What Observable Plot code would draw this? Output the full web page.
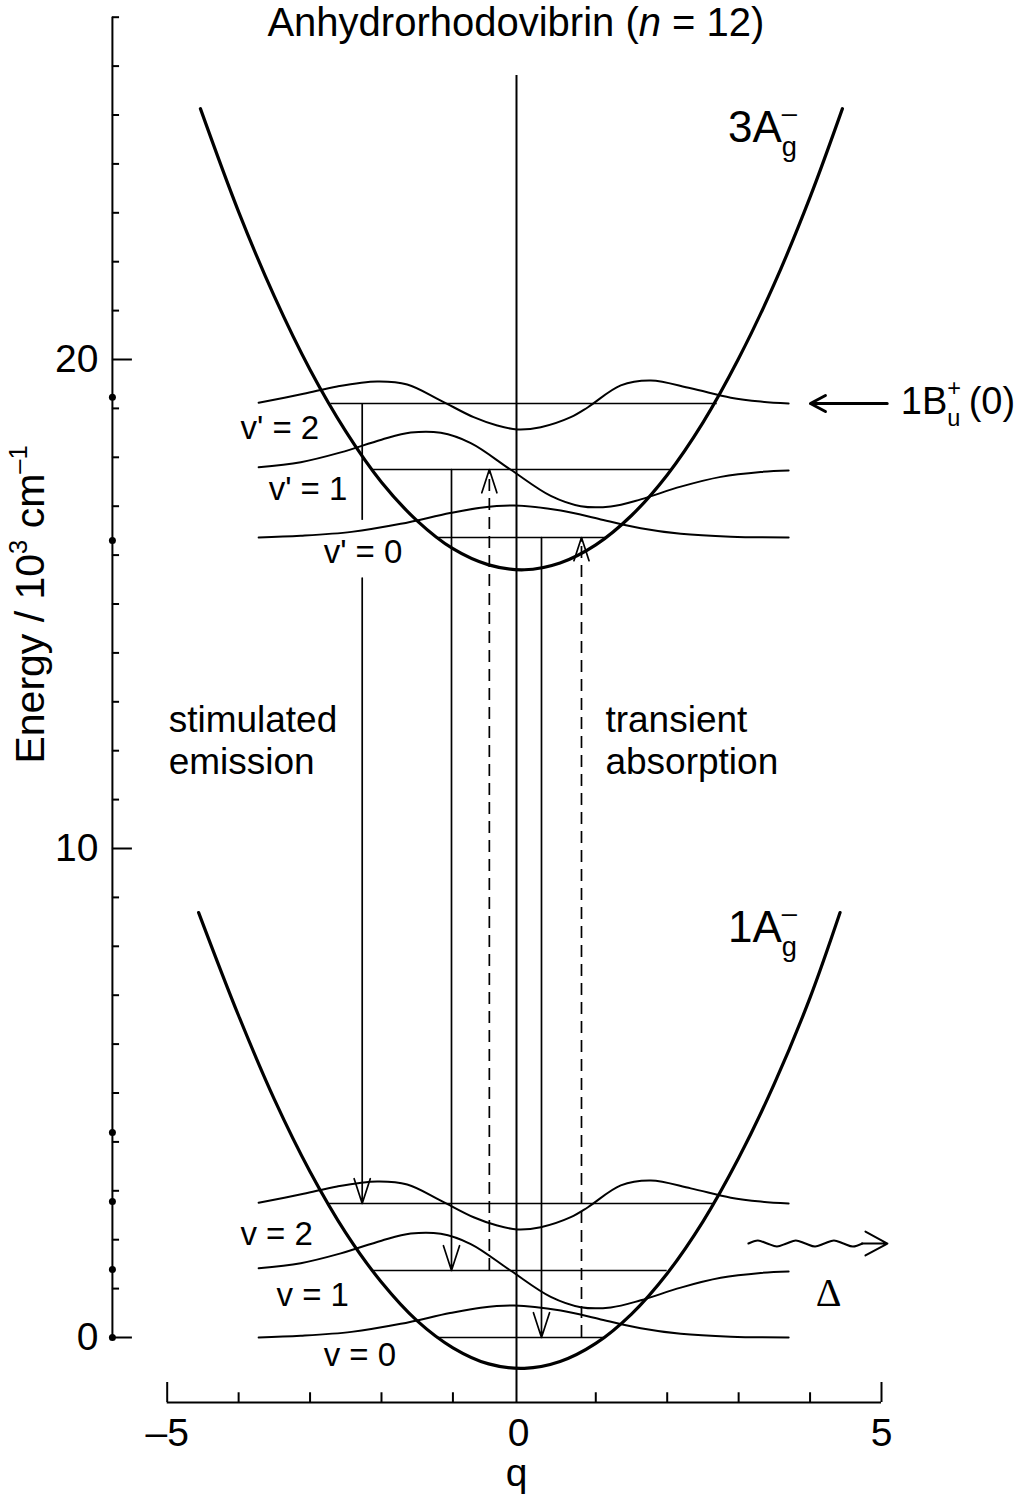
<!DOCTYPE html>
<html>
<head>
<meta charset="utf-8">
<script src="https://cdn.jsdelivr.net/npm/d3@7"></script>
<script src="https://cdn.jsdelivr.net/npm/@observablehq/plot@0.6"></script>
<style>
html, body { margin: 0; padding: 0; background: #fff; }
svg { display: block; }
</style>
</head>
<body>
<script>
// ---------------- data ----------------
// potential curves (q, energy in 10^3 cm^-1)
const upperQ = [-4.535, -4, -3.5, -3, -2.5, -2, -1.5, -1, -0.5, 0, 0.5, 1, 1.5, 2, 2.5, 3, 3.5, 4, 4.453];
const upperE = [25.13, 23.02, 21.29, 19.79, 18.53, 17.49, 16.70, 16.13, 15.80, 15.70, 15.84, 16.21, 16.81, 17.64, 18.71, 20.02, 21.55, 23.32, 25.13];
const lowerQ = [-4.56, -4, -3.5, -3, -2.5, -2, -1.5, -1, -0.5, 0, 0.5, 1, 1.5, 2, 2.5, 3, 3.5, 4, 4.42];
const lowerE = [8.69, 6.58, 4.87, 3.39, 2.14, 1.13, 0.34, -0.21, -0.54, -0.63, -0.49, -0.12, 0.48, 1.31, 2.37, 3.67, 5.19, 6.95, 8.69];

// vibrational levels
const upperLevelE = [16.36, 17.75, 19.10];
const upperLevelQ1 = [-1.22, -2.13, -2.71];
const upperLevelQ2 = [1.14, 2.05, 2.70];
const lowerLevelE = [0, 1.37, 2.74];
const lowerLevelQ1 = [-1.22, -2.11, -2.74];
const lowerLevelQ2 = [1.12, 2.00, 2.65];

// vibrational wavefunctions (offset from their level)
const psi0Q = [-3.72, -3.13, -2.42, -1.73, -1.04, -0.61, -0.14, 0.51, 1.07, 1.63, 2.19, 2.89, 3.70];
const psi0A = [0, 0.035, 0.115, 0.28, 0.50, 0.61, 0.655, 0.55, 0.37, 0.19, 0.075, 0.016, 0];
const psi1Q = [-3.72, -3.13, -2.57, -2.00, -1.59, -1.17, -0.75, -0.195, 0.37, 0.79, 1.21, 1.63, 2.19, 2.75, 3.31, 3.70];
const psi1A = [0.047, 0.15, 0.35, 0.61, 0.755, 0.75, 0.54, 0, -0.54, -0.75, -0.755, -0.61, -0.35, -0.15, -0.05, -0.02];
const psi2Q = [-3.72, -3.09, -2.62, -2.06, -1.64, -1.17, -0.71, -0.38, -0.10, 0.23, 0.65, 0.89, 1.35, 1.77, 2.33, 2.89, 3.31, 3.70];
const psi2A = [0.014, 0.20, 0.35, 0.45, 0.39, 0.06, -0.28, -0.45, -0.53, -0.485, -0.28, -0.076, 0.37, 0.47, 0.31, 0.12, 0.04, 0];

// transitions
const emitQ = [-2.27, -1.02, 0.24];
const emitFrom = [19.10, 17.75, 16.36];
const emitTo = [2.74, 1.37, 0];
const emitGapTop = 16.71;     // break in the first emission line (around "v' = 0")
const emitGapBottom = 15.53;
const absorbQ = [-0.49, 0.80];
const absorbFrom = [1.37, 0];
const absorbTo = [17.75, 16.36];

// axes
const yAxisQ = -5.767;
const xAxisE = -1.33;
const yMajorTicks = [0, 10, 20];
const yMinorTicks = [1, 2, 3, 4, 5, 6, 7, 8, 9, 11, 12, 13, 14, 15, 16, 17, 18, 19, 21, 22, 23, 24, 25, 26, 27];
const yTickLabels = ["0", "10", "20"];
const yAxisDots = [0, 1.39, 2.78, 4.19, 16.30, 19.23];
const xMajorTicks = [-5, 5];
const xMinorTicks = [-4, -3, -2, -1, 1, 2, 3, 4];
const xTickLabels = ["\u20135", "0", "5"];
const xTickLabelQ = [-5, -0.08, 5];
const centerQ = -0.11;
const centerTopE = 25.81;

// annotations
const titleText = "Anhydrorhodovibrin (*n* = 12)";
const titleQ = -0.118, titleE = 26.61;
const yLabelText = "Energy / 10^{3} cm^{\u20131}";
const yLabelQ = -6.91, yLabelE = 14.99;
const stateText = ["3A_{g}^{\u2013}", "1A_{g}^{\u2013}"];
const stateQ = [2.85, 2.85];
const stateE = [24.44, 8.08];
const buText = "1B_{u}^{+}\u2009(0)";
const buQ = 5.27, buE = 18.88;
const buArrowQ1 = 5.08, buArrowQ2 = 4.005, buArrowE = 19.10;
const vText = ["v' = 2", "v' = 1", "v' = 0", "v = 2", "v = 1", "v = 0"];
const vTextQ = [-3.975, -3.58, -2.81, -3.975, -3.47, -2.81];
const vTextE = [18.38, 17.13, 15.84, 1.90, 0.65, -0.59];
const procText = ["stimulated", "emission", "transient", "absorption"];
const procQ = [-4.98, -4.98, 1.135, 1.135];
const procE = [12.39, 11.53, 12.39, 11.53];
const deltaQ = 4.26, deltaE = 0.65;
const heatQ = [3.137, 3.27, 3.40, 3.536, 3.67, 3.80, 3.935, 4.07, 4.20, 4.334, 4.467, 4.60, 4.733];
const heatE = [1.922, 1.984, 1.922, 1.861, 1.922, 1.984, 1.922, 1.861, 1.922, 1.984, 1.922, 1.861, 1.922];
const heatArrowQ1 = 3.9, heatArrowQ2 = 5.083;

// ---------------- tables ----------------
const zip = (Q, E) => Q.map((q, i) => ({q, E: E[i]}));
const upper = zip(upperQ, upperE);
const lower = zip(lowerQ, lowerE);
const levels = [
  ...upperLevelE.map((E, i) => ({E, q1: upperLevelQ1[i], q2: upperLevelQ2[i]})),
  ...lowerLevelE.map((E, i) => ({E, q1: lowerLevelQ1[i], q2: lowerLevelQ2[i]}))
];
const shapes = [[psi0Q, psi0A], [psi1Q, psi1A], [psi2Q, psi2A]];
const waves = [];
[upperLevelE, lowerLevelE].forEach((lv, m) => lv.forEach((E0, v) => {
  const [Q, A] = shapes[v];
  Q.forEach((q, i) => waves.push({id: m + "-" + v, q, E: E0 + A[i]}));
}));
const emissions = emitQ.map((q, i) => ({q, from: i === 0 ? emitGapBottom : emitFrom[i], to: emitTo[i]}));
const emissionTop = [{q: emitQ[0], from: emitFrom[0], to: emitGapTop}];
const absorptions = absorbQ.map((q, i) => ({q, from: absorbFrom[i], to: absorbTo[i]}));
const heat = zip(heatQ, heatE);

const font = "'Liberation Sans', Arial, Helvetica, sans-serif";

const plot = Plot.plot({
  width: 1024,
  height: 1496,
  marginLeft: 0, marginRight: 0, marginTop: 0, marginBottom: 0,
  style: {fontFamily: font, background: "#fff", color: "#000", overflow: "visible"},
  x: {domain: [-5, 5], range: [166.7, 881], axis: null},
  y: {domain: [0, 27], range: [1337, 16.7], axis: null},
  marks: [
    // axes
    Plot.ruleX([yAxisQ], {y1: 0, y2: 27, strokeWidth: 2}),
    Plot.ruleY(yMajorTicks, {y: d => d, x1: yAxisQ, x2: yAxisQ + 0.28, strokeWidth: 2}),
    Plot.ruleY(yMinorTicks, {y: d => d, x1: yAxisQ, x2: yAxisQ + 0.1, strokeWidth: 2}),
    Plot.dot(yAxisDots, {x: () => yAxisQ, y: d => d, r: 3.5, fill: "#000", stroke: null}),
    Plot.text(yTickLabels, {x: () => yAxisQ, y: (d, i) => yMajorTicks[i], text: d => d, textAnchor: "end", dx: -14, fontSize: 39}),
    Plot.ruleY([xAxisE], {x1: -5, x2: 5, strokeWidth: 2}),
    Plot.ruleX(xMajorTicks, {x: d => d, y1: xAxisE, y2: xAxisE + 0.41, strokeWidth: 2}),
    Plot.ruleX(xMinorTicks, {x: d => d, y1: xAxisE, y2: xAxisE + 0.2, strokeWidth: 2}),
    Plot.text(xTickLabels, {x: (d, i) => xTickLabelQ[i], y: () => xAxisE, text: d => d, lineAnchor: "top", dy: 16, fontSize: 39}),
    Plot.text(["q"], {x: () => centerQ, y: () => xAxisE, text: d => d, lineAnchor: "bottom", dy: 83, fontSize: 39}),
    Plot.text([yLabelText], {x: () => yLabelQ, y: () => yLabelE, text: d => d, rotate: -90, fontSize: 41}),

    // centre line
    Plot.ruleX([centerQ], {y1: xAxisE, y2: centerTopE, strokeWidth: 2}),

    // levels and wavefunctions
    Plot.ruleY(levels, {y: "E", x1: "q1", x2: "q2", strokeWidth: 1.6}),
    Plot.line(waves, {x: "q", y: "E", z: "id", curve: "catmull-rom", strokeWidth: 2}),

    // potential curves
    Plot.line(upper, {x: "q", y: "E", curve: "catmull-rom", strokeWidth: 3.2}),
    Plot.line(lower, {x: "q", y: "E", curve: "catmull-rom", strokeWidth: 3.2}),

    // stimulated emission (solid, downwards)
    Plot.ruleX(emissionTop, {x: "q", y1: "from", y2: "to", strokeWidth: 1.7}),
    Plot.arrow(emissions, {x1: "q", x2: "q", y1: "from", y2: "to", strokeWidth: 1.7, headAngle: 36, headLength: 23}),

    // transient absorption (dashed, upwards)
    Plot.ruleX(absorptions, {x: "q", y1: "from", y2: "to", strokeWidth: 1.7, strokeDasharray: "12,7"}),
    Plot.arrow(absorptions, {x1: "q", x2: "q", y1: d => d.to - 1.5, y2: "to", strokeWidth: 1.7, headAngle: 36, headLength: 23, insetStart: 70}),

    // 1Bu+ arrow
    Plot.arrow([0], {x1: () => buArrowQ1, x2: () => buArrowQ2, y1: () => buArrowE, y2: () => buArrowE, strokeWidth: 3, headAngle: 56, headLength: 8.5}),

    // heat (wavy arrow)
    Plot.line(heat, {x: "q", y: "E", curve: "catmull-rom", strokeWidth: 2}),
    Plot.arrow([0], {x1: () => heatArrowQ1, x2: () => heatArrowQ2, y1: () => heatE[0], y2: () => heatE[0], strokeWidth: 2, headAngle: 57, headLength: 18.75, insetStart: 59}),

    // labels
    Plot.text([titleText], {x: () => titleQ, y: () => titleE, text: d => d, lineAnchor: "bottom", fontSize: 40}),
    Plot.text(stateText, {x: (d, i) => stateQ[i], y: (d, i) => stateE[i], text: d => d, textAnchor: "start", lineAnchor: "bottom", fontSize: 44}),
    Plot.text([buText], {x: () => buQ, y: () => buE, text: d => d, textAnchor: "start", lineAnchor: "bottom", fontSize: 38}),
    Plot.text(vText, {x: (d, i) => vTextQ[i], y: (d, i) => vTextE[i], text: d => d, textAnchor: "start", lineAnchor: "bottom", fontSize: 33}),
    Plot.text(procText, {x: (d, i) => procQ[i], y: (d, i) => procE[i], text: d => d, textAnchor: "start", lineAnchor: "bottom", fontSize: 37}),
    Plot.text(["\u0394"], {x: () => deltaQ, y: () => deltaE, text: d => d, lineAnchor: "bottom", fontSize: 40, fontFamily: "'Liberation Serif', 'DejaVu Serif', serif"})
  ]
});

document.body.appendChild(plot);

// ---------------- rich text (sub/superscripts, italics) ----------------
function parseRich(s) {
  const out = []; let buf = "", italic = false, i = 0;
  const flush = () => { if (buf) { out.push({type: "n", text: buf, italic}); buf = ""; } };
  while (i < s.length) {
    const c = s[i];
    if ((c === "_" || c === "^") && s[i + 1] === "{") {
      flush();
      const j = s.indexOf("}", i + 2);
      out.push({type: c === "_" ? "sub" : "sup", text: s.slice(i + 2, j), italic});
      i = j + 1;
    } else if (c === "*") { flush(); italic = !italic; i++; }
    else { buf += c; i++; }
  }
  flush();
  return out;
}
const NS = "http://www.w3.org/2000/svg";
plot.querySelectorAll("text").forEach(t => {
  const src = t.textContent;
  if (!/[_^]\{|\*/.test(src)) return;
  const toks = parseRich(src);
  const fs = parseFloat(getComputedStyle(t).fontSize);
  while (t.firstChild) t.removeChild(t.firstChild);
  let shift = 0, pendingDx = 0;
  const mk = (tok, size, target, dx) => {
    const ts = document.createElementNS(NS, "tspan");
    ts.textContent = tok.text;
    if (size !== fs) ts.setAttribute("font-size", size);
    if (tok.italic) ts.setAttribute("font-style", "italic");
    ts.setAttribute("dy", target - shift);
    if (dx) ts.setAttribute("dx", dx);
    shift = target;
    t.appendChild(ts);
    return ts;
  };
  for (let k = 0; k < toks.length; k++) {
    const tok = toks[k];
    if (tok.type === "n") { mk(tok, fs, 0, pendingDx); pendingDx = 0; }
    else if (tok.type === "sub") {
      const a = mk(tok, fs * 0.62, fs * 0.3, pendingDx); pendingDx = 0;
      if (toks[k + 1] && toks[k + 1].type === "sup") {
        const wa = a.getComputedTextLength();
        const b = mk(toks[k + 1], fs * 0.62, -fs * 0.47, -wa);
        const wb = b.getComputedTextLength();
        pendingDx = Math.max(0, wa - wb);
        k++;
      }
    } else { mk(tok, fs * 0.62, -fs * 0.42, pendingDx); pendingDx = 0; }
  }
});
</script>
</body>
</html>
